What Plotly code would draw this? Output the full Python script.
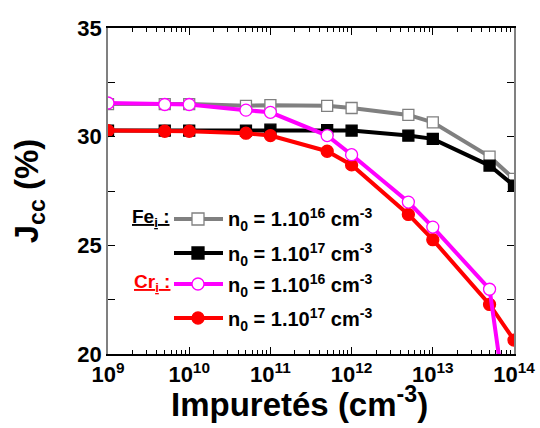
import plotly.graph_objects as go

# ---- data ----
impurities = [1e9, 5e9, 1e10, 5e10, 1e11, 5e11, 1e12, 5e12, 1e13, 5e13, 1e14]
fe_n16 = [31.5, 31.5, 31.5, 31.42, 31.45, 31.42, 31.32, 31.0, 30.66, 29.08, 28.06]
fe_n17 = [30.28, 30.28, 30.28, 30.28, 30.32, 30.3, 30.28, 30.05, 29.9, 28.67, 27.75]
cr_n16 = [31.55, 31.48, 31.48, 31.22, 31.12, 30.05, 29.17, 26.99, 25.84, 22.98, 15.0]
cr_n17 = [30.28, 30.25, 30.25, 30.16, 30.05, 29.33, 28.7, 26.42, 25.26, 22.28, 20.64]

x_tickvals = [1e9, 1e10, 1e11, 1e12, 1e13, 1e14]
x_ticktext = ["10<sup>9</sup>", "10<sup>10</sup>", "10<sup>11</sup>",
              "10<sup>12</sup>", "10<sup>13</sup>", "10<sup>14</sup>"]
x_minor = [m * 10 ** e for e in range(9, 14) for m in range(2, 10)]

legend_labels = ["n<sub>0</sub> = 1.10<sup>16</sup> cm<sup>-3</sup>",
                 "n<sub>0</sub> = 1.10<sup>17</sup> cm<sup>-3</sup>",
                 "n<sub>0</sub> = 1.10<sup>16</sup> cm<sup>-3</sup>",
                 "n<sub>0</sub> = 1.10<sup>17</sup> cm<sup>-3</sup>"]

FONT = "Liberation Sans, Arial, sans-serif"
W, H = 540, 428
L, R, T, B = 108, 514, 28, 354

def px(xp):
    return (xp - L) / (R - L)

def py(yp):
    return (B - yp) / (B - T)

fig = go.Figure()

series = [
    (fe_n16, "#808080", "square", "white", "#808080"),
    (fe_n17, "black", "square", "black", "black"),
    (cr_n17, "#FF0000", "circle", "#FF0000", "#FF0000"),
    (cr_n16, "#FF00FF", "circle", "white", "#FF00FF"),
]
for ys, col, sym, fill, edge in series:
    fig.add_trace(go.Scatter(
        x=impurities, y=ys, mode="lines+markers",
        line=dict(color=col, width=4),
        marker=dict(symbol=sym, size=12 if sym == "circle" else 11,
                    color=fill, line=dict(color=edge, width=1.3)),
        showlegend=False, cliponaxis=True))

# ---- manual legend ----
rows = [
    (219, "#808080", "square", "white", "#808080", legend_labels[0]),
    (253, "black", "square", "black", "black", legend_labels[1]),
    (284, "#FF00FF", "circle", "white", "#FF00FF", legend_labels[2]),
    (318, "#FF0000", "circle", "#FF0000", "#FF0000", legend_labels[3]),
]
shapes = []
annotations = []
for yrow, col, sym, fill, edge, lab in rows:
    shapes.append(dict(type="line", xref="paper", yref="paper",
                       x0=px(174), x1=px(223), y0=py(yrow), y1=py(yrow),
                       line=dict(color=col, width=4)))
    r = 6
    shapes.append(dict(type="rect" if sym == "square" else "circle",
                       xref="paper", yref="paper",
                       x0=px(198 - r), x1=px(198 + r), y0=py(yrow + r), y1=py(yrow - r),
                       fillcolor=fill, line=dict(color=edge, width=1.3)))
    annotations.append(dict(x=px(226), y=py(yrow + 1), xref="paper", yref="paper",
                            xanchor="left", yanchor="middle", showarrow=False,
                            text="<b>" + lab + "</b>",
                            font=dict(family=FONT, size=20, color="black")))

annotations.append(dict(x=px(172), y=py(218), xref="paper", yref="paper",
                        xanchor="right", yanchor="middle", showarrow=False,
                        text="<b><u>Fe<sub>i</sub> :</u></b>",
                        font=dict(family=FONT, size=19, color="black")))
annotations.append(dict(x=px(172), y=py(283), xref="paper", yref="paper",
                        xanchor="right", yanchor="middle", showarrow=False,
                        text="<b><u>Cr<sub>i</sub> :</u></b>",
                        font=dict(family=FONT, size=19, color="#FF0000")))

# x-axis title as annotation (slightly left of centre, as in the reference)
annotations.append(dict(x=px(299), y=py(402), xref="paper", yref="paper",
                        xanchor="center", yanchor="middle", showarrow=False,
                        text="<b>Impuretés (cm<sup>-3</sup>)</b>",
                        font=dict(family=FONT, size=33, color="black")))

fig.update_layout(
    width=W, height=H,
    margin=dict(l=L, r=W - R, t=T, b=H - B, autoexpand=False),
    paper_bgcolor="white", plot_bgcolor="white",
    font=dict(family=FONT, color="black"),
    shapes=shapes, annotations=annotations,
    showlegend=False,
)
fig.update_xaxes(
    type="log", range=[9, 14], automargin=False,
    tickmode="array", tickvals=x_tickvals, ticktext=["<b>" + t + "</b>" for t in x_ticktext],
    tickfont=dict(family=FONT, size=22, color="black"),
    ticks="inside", ticklen=7, tickwidth=1, tickcolor="black",
    minor=dict(tickmode="array", tickvals=x_minor, ticks="inside", ticklen=4,
               tickcolor="black", showgrid=False),
    showline=True, linecolor="black", linewidth=1.5, mirror="allticks",
    showgrid=False, zeroline=False,
)
fig.update_yaxes(
    range=[20, 35], automargin=False,
    tickmode="array", tickvals=[20, 25, 30, 35],
    ticktext=["<b>20</b>", "<b>25</b>", "<b>30</b>", "<b>35</b>"],
    tickfont=dict(family=FONT, size=22, color="black"),
    ticks="inside", ticklen=7, tickwidth=1, tickcolor="black",
    minor=dict(tickmode="array", tickvals=[22.5, 27.5, 32.5], ticks="inside",
               ticklen=7, tickcolor="black", showgrid=False),
    showline=True, linecolor="#808080", linewidth=1.5, mirror="allticks",
    showgrid=False, zeroline=False,
    title=dict(text="<b>J<sub>cc</sub> (%)</b>",
               font=dict(family=FONT, size=33, color="black"), standoff=29),
)

fig.write_html("out.html", config={"displayModeBar": False},
               post_script="document.body.style.margin='0';document.body.style.overflow='hidden';")
